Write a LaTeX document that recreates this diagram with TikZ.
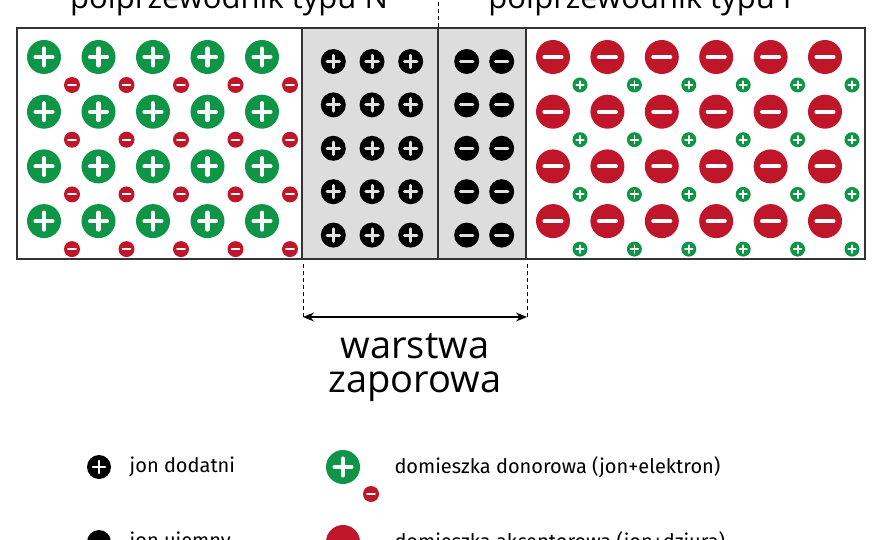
\documentclass[tikz,border=0pt]{standalone}
\usepackage{fontspec}
\setmainfont{Fira Sans}
\newfontfamily\opensans{Open Sans}
\usetikzlibrary{arrows.meta, positioning, calc}

\definecolor{dgreen}{RGB}{14,150,70}
\definecolor{dred}{RGB}{192,22,42}
\definecolor{lgray}{RGB}{221,221,221}
\definecolor{lsign}{RGB}{225,225,225}

\tikzset{
	ion/.style={circle, inner sep=0pt, minimum size=#1},
	signplus/.style 2 args={path picture={
		\draw[#2, line width=0.24*#1, line cap=round]
			([xshift=-0.5*#1]path picture bounding box.center) -- ([xshift=0.5*#1]path picture bounding box.center)
			([yshift=-0.5*#1]path picture bounding box.center) -- ([yshift=0.5*#1]path picture bounding box.center);}},
	signminus/.style 2 args={path picture={
		\draw[#2, line width=0.24*#1, line cap=round]
			([xshift=-0.5*#1]path picture bounding box.center) -- ([xshift=0.5*#1]path picture bounding box.center);}},
	donor/.style={ion=34pt, fill=dgreen, signplus={17pt}{white}},
	electron/.style={ion=16pt, fill=dred, signminus={8pt}{white}},
	acceptor/.style={ion=34pt, fill=dred, signminus={17pt}{white}},
	hole/.style={ion=15pt, fill=dgreen, signplus={7.5pt}{white}},
	posion/.style={ion=25pt, fill=black, signplus={12.5pt}{lsign}},
	negion/.style={ion=25pt, fill=black, signminus={12.5pt}{lsign}},
	frame/.style={draw=black!80, line width=1.3pt},
	guide/.style={black, line width=1pt, dash pattern=on 4pt off 3pt},
	titletext/.style={font=\opensans\fontsize{31}{34}\selectfont, anchor=base, inner sep=0pt},
	bigtext/.style={font=\opensans\fontsize{38}{34}\selectfont, anchor=base, inner sep=0pt, text depth=0pt},
	legtext/.style={font=\fontsize{20}{22}\selectfont, anchor=west}
}

\begin{document}
\begin{tikzpicture}[x=1pt, y=-1pt]
\useasboundingbox (0,0) rectangle (880,540);

% regions
\fill[lgray] (302,28) rectangle (526,259);
\draw[frame] (17,28) rectangle (865,259);
\draw[frame] (302,28) -- (302,259) (438,28) -- (438,259) (526,28) -- (526,259);

% titles
\node[titletext] (ntitle) at (229,9) {półprzewodnik typu N};
\node[titletext] (ptitle) at (645,9) {półprzewodnik typu P};
\coordinate (jtop) at (438,-5);
\coordinate (jbot) at (438,28);
\draw[guide] (jtop) -- (jbot);

% N side
\foreach \i in {0,...,4}
	\foreach \j in {0,...,3} {
		\node[donor] (d-\i-\j) at (44+54.5*\i, 57+54.7*\j) {};
		\node[electron] (e-\i-\j) at (72+54.5*\i, 85+54.7*\j) {};
	}

% P side
\foreach \i in {0,...,5}
	\foreach \j in {0,...,3} {
		\node[acceptor] (a-\i-\j) at (553+54.4*\i, 57+54.7*\j) {};
		\node[hole] (h-\i-\j) at (580+54.4*\i, 85+54.7*\j) {};
	}

% depletion layer
\foreach \j in {0,...,4} {
	\foreach \i in {0,1,2}
		\node[posion] (p-\i-\j) at (333.3+38.7*\i, 61.5+43.4*\j) {};
	\foreach \i in {0,1}
		\node[negion] (n-\i-\j) at (466.7+35*\i, 61.5+43.4*\j) {};
}

% width of the layer
\coordinate (wl) at (303,264);
\coordinate (wr) at (527,264);
\coordinate (al) at (303,317);
\coordinate (ar) at (527,317);
\coordinate (amid) at ($(al)!0.5!(ar)$);
\draw[guide] (wl) -- (al);
\draw[guide] (wr) -- (ar);
\draw[{Stealth[length=11pt, width=9pt]}-{Stealth[length=11pt, width=9pt]}, line width=1.3pt] (al) -- (ar);
\node[bigtext] (layer1) at ($(amid)+(0,41)$) {warstwa};
\node[bigtext] (layer2) at ($(layer1.base)+(0,34)$) {zaporowa};

% legend
\node[posion, ion=24pt, signplus={12pt}{white}] (lpos) at (99,467) {};
\node[legtext, right=15pt of lpos] (lpostext) {jon dodatni};
\node[donor] (ldonor) at (343,467) {};
\node[electron] (lelec) at (371,494) {};
\node[legtext] (ldonortext) at (391,467) {domieszka donorowa (jon+elektron)};
\node[negion, ion=24pt, signminus={12pt}{white}] (lneg) at (99,542) {};
\node[legtext, right=15pt of lneg] (lnegtext) {jon ujemny};
\node[acceptor] (lacc) at (343,542) {};
\node[legtext] (lacctext) at (391,542) {domieszka akceptorowa (jon+dziura)};
\end{tikzpicture}
\end{document}
